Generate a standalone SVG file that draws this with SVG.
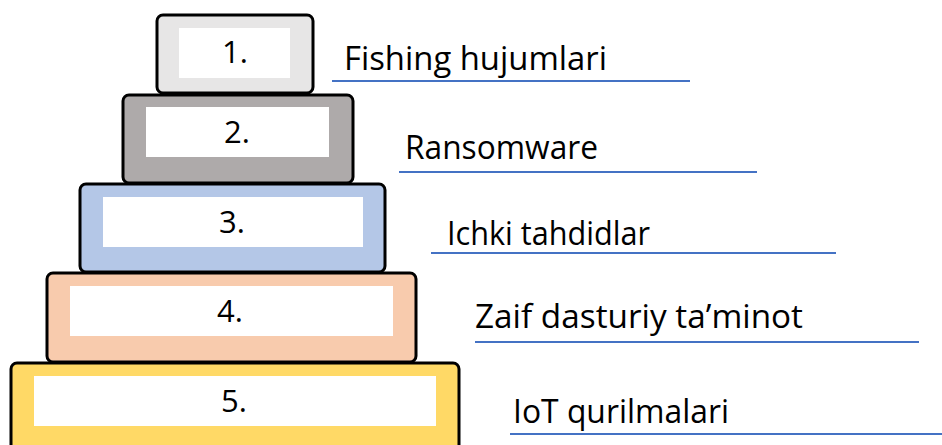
<svg xmlns="http://www.w3.org/2000/svg" width="942" height="445" viewBox="0 0 942 445">
<style>
.tier{stroke:#000;stroke-width:3;}
.inner{fill:#fff;}
.num{font-family:"Open Sans","Liberation Sans",sans-serif;font-size:31px;fill:#000;text-anchor:middle;}
.lbl{font-family:"Open Sans","Liberation Sans",sans-serif;font-size:32px;fill:#000;}
.ul{stroke:#4472c4;stroke-width:2;fill:none;}
</style>
<rect width="942" height="445" fill="#fff"/>
<g id="tier5">
<rect class="tier" x="11" y="363" width="448" height="100" rx="6" fill="#ffd966"/>
<rect class="inner" x="34" y="376" width="402" height="50"/>
<text class="num" x="234" y="412">5.</text>
</g>
<g id="tier4">
<rect class="tier" x="47" y="273" width="369" height="89" rx="6" fill="#f8cbad"/>
<rect class="inner" x="70" y="286" width="323" height="50"/>
<text class="num" x="230" y="322">4.</text>
</g>
<g id="tier3">
<rect class="tier" x="80" y="184" width="305" height="88" rx="6" fill="#b4c7e7"/>
<rect class="inner" x="103" y="197" width="260" height="50"/>
<text class="num" x="232" y="233">3.</text>
</g>
<g id="tier2">
<rect class="tier" x="123" y="95" width="230" height="88" rx="6" fill="#aeaaaa"/>
<rect class="inner" x="146" y="107" width="183" height="50"/>
<text class="num" x="237" y="143">2.</text>
</g>
<g id="tier1">
<rect class="tier" x="157" y="15" width="156" height="78" rx="6" fill="#e7e6e6"/>
<rect class="inner" x="179" y="28" width="111" height="50"/>
<text class="num" x="235" y="63">1.</text>
</g>
<g id="connectors">
<line class="ul" x1="332" y1="81" x2="690" y2="81"/>
<line class="ul" x1="399" y1="172" x2="757" y2="172"/>
<line class="ul" x1="431" y1="253" x2="836" y2="253"/>
<line class="ul" x1="475" y1="342" x2="919" y2="342"/>
<line class="ul" x1="510" y1="434" x2="942" y2="434"/>
</g>
<g id="labels">
<text class="lbl" x="344" y="70" textLength="263" lengthAdjust="spacingAndGlyphs">Fishing hujumlari</text>
<text class="lbl" x="405" y="159" textLength="193" lengthAdjust="spacingAndGlyphs">Ransomware</text>
<text class="lbl" x="447" y="245" textLength="203" lengthAdjust="spacingAndGlyphs">Ichki tahdidlar</text>
<text class="lbl" x="475" y="328" textLength="328" lengthAdjust="spacingAndGlyphs">Zaif dasturiy ta’minot</text>
<text class="lbl" x="513" y="423" textLength="216" lengthAdjust="spacingAndGlyphs">IoT qurilmalari</text>
</g>
</svg>
